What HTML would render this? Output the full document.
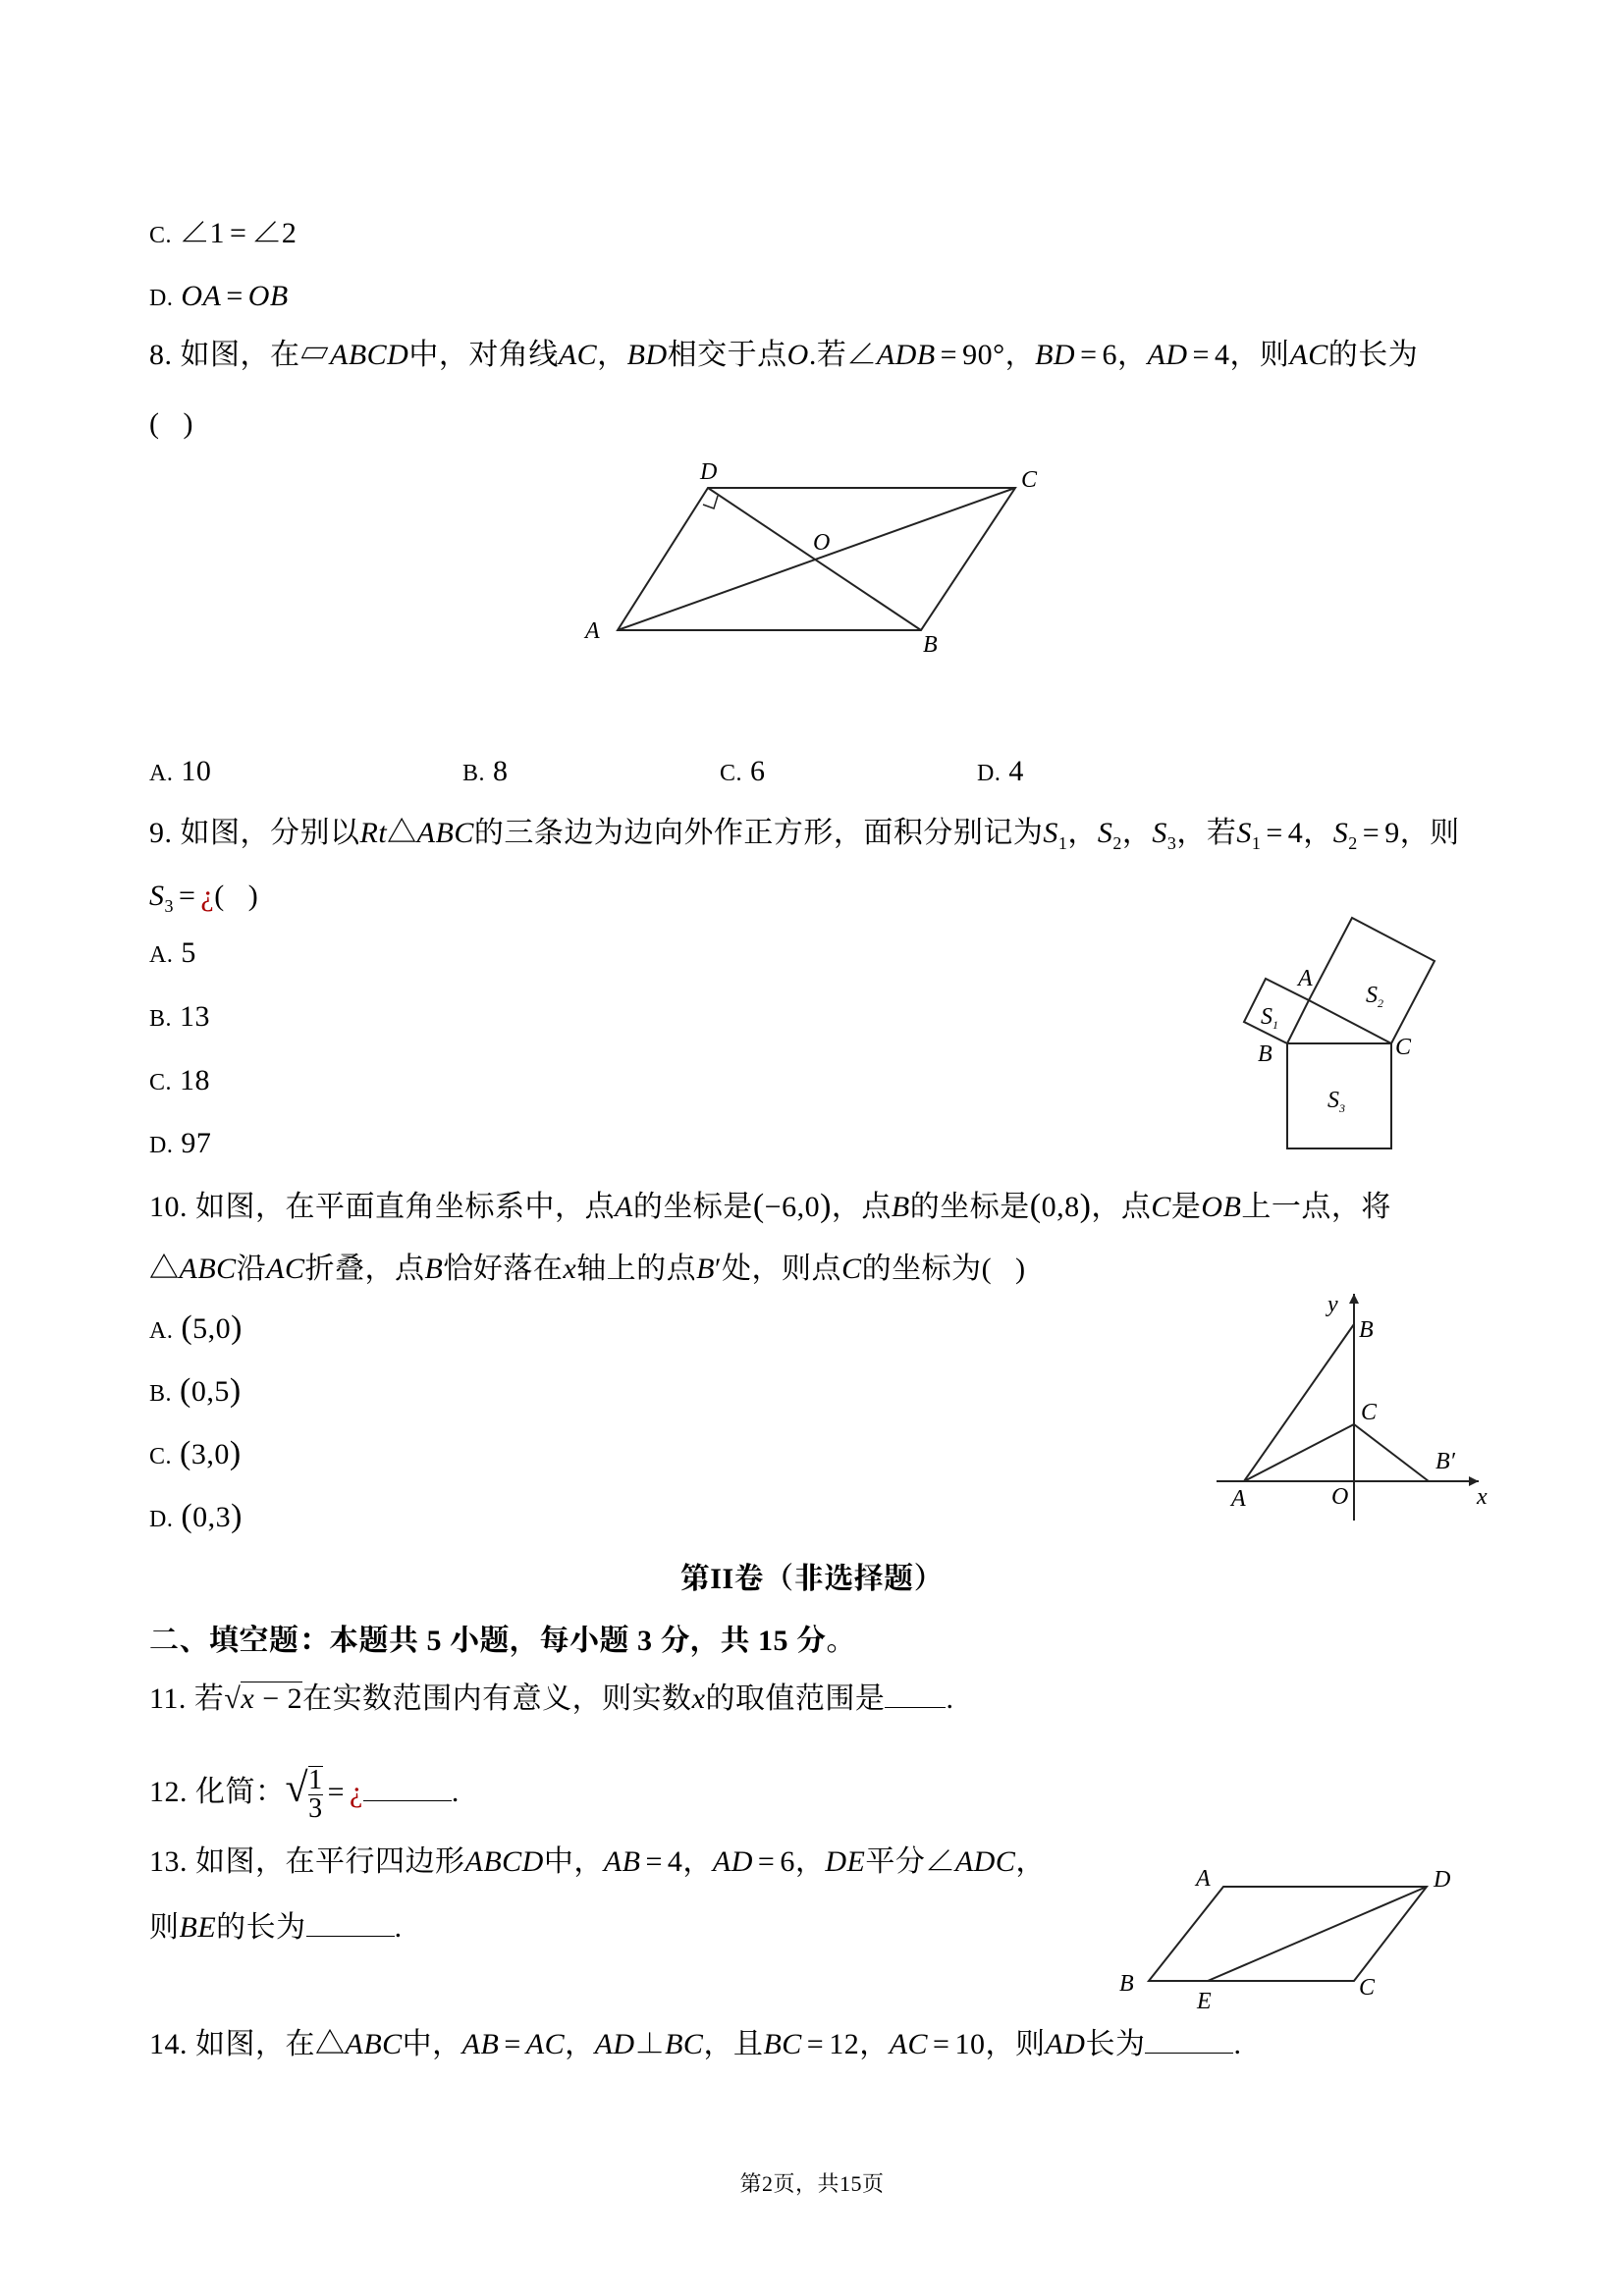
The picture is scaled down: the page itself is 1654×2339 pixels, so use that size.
<!DOCTYPE html>
<html><head><meta charset="utf-8"><style>
body{margin:0;background:#fff;}
.pg{position:relative;width:1654px;height:2339px;overflow:hidden;font-family:"Liberation Serif","Noto Serif CJK SC",serif;font-size:30px;color:#000;}
.t{position:absolute;white-space:nowrap;line-height:32px;letter-spacing:0.5px;}
i{font-style:italic;}
b.e{font-weight:normal;margin:0 5px;}
sub{font-size:18px;}
.o{font-size:24px;}
.red{color:#a00;}
.u{display:inline-block;border-bottom:1.5px solid #000;width:64px;height:24px;vertical-align:baseline;}
svg{position:absolute;left:0;top:0;}
svg text{font-family:"Liberation Serif",serif;font-style:italic;font-size:24px;}
</style></head><body><div class="pg">
<div class="t" style="left:152px;top:222px"><span class="o">C.</span> ∠1<b class="e">=</b>∠2</div>
<div class="t" style="left:152px;top:286px"><span class="o">D.</span> <i>OA</i><b class="e">=</b><i>OB</i></div>
<div class="t" style="left:152px;top:346px">8. 如图，在▱<i>ABCD</i>中，对角线<i>AC</i>，<i>BD</i>相交于点<i>O</i>.若∠<i>ADB</i><b class="e">=</b>90°，<i>BD</i><b class="e">=</b>6，<i>AD</i><b class="e">=</b>4，则<i>AC</i>的长为</div>
<div class="t" style="left:152px;top:416px">(&nbsp;&nbsp;&nbsp;)</div>
<div class="t" style="left:152px;top:770px"><span class="o">A.</span> 10</div>
<div class="t" style="left:471px;top:770px"><span class="o">B.</span> 8</div>
<div class="t" style="left:733px;top:770px"><span class="o">C.</span> 6</div>
<div class="t" style="left:995px;top:770px"><span class="o">D.</span> 4</div>
<div class="t" style="left:152px;top:833px">9. 如图，分别以<i>Rt</i>△<i>ABC</i>的三条边为边向外作正方形，面积分别记为<i>S</i><sub>1</sub>，<i>S</i><sub>2</sub>，<i>S</i><sub>3</sub>，若<i>S</i><sub>1</sub><b class="e">=</b>4，<i>S</i><sub>2</sub><b class="e">=</b>9，则</div>
<div class="t" style="left:152px;top:897px"><i>S</i><sub>3</sub><b class="e">=</b><span class="red">¿</span>(&nbsp;&nbsp;&nbsp;)</div>
<div class="t" style="left:152px;top:955px"><span class="o">A.</span> 5</div>
<div class="t" style="left:152px;top:1020px"><span class="o">B.</span> 13</div>
<div class="t" style="left:152px;top:1085px"><span class="o">C.</span> 18</div>
<div class="t" style="left:152px;top:1149px"><span class="o">D.</span> 97</div>
<div class="t" style="left:152px;top:1213px">10. 如图，在平面直角坐标系中，点<i>A</i>的坐标是<span style="font-size:34px">(</span>−6,0<span style="font-size:34px">)</span>，点<i>B</i>的坐标是<span style="font-size:34px">(</span>0,8<span style="font-size:34px">)</span>，点<i>C</i>是<i>OB</i>上一点，将</div>
<div class="t" style="left:152px;top:1277px">△<i>ABC</i>沿<i>AC</i>折叠，点<i>B</i>恰好落在<i>x</i>轴上的点<i>B</i>′处，则点<i>C</i>的坐标为(&nbsp;&nbsp;&nbsp;)</div>
<div class="t" style="left:152px;top:1337px"><span class="o">A.</span> <span style="font-size:34px">(</span>5,0<span style="font-size:34px">)</span></div>
<div class="t" style="left:152px;top:1401px"><span class="o">B.</span> <span style="font-size:34px">(</span>0,5<span style="font-size:34px">)</span></div>
<div class="t" style="left:152px;top:1465px"><span class="o">C.</span> <span style="font-size:34px">(</span>3,0<span style="font-size:34px">)</span></div>
<div class="t" style="left:152px;top:1529px"><span class="o">D.</span> <span style="font-size:34px">(</span>0,3<span style="font-size:34px">)</span></div>
<div class="t" style="left:0;width:1654px;text-align:center;top:1593px;font-weight:bold">第II卷（非选择题）</div>
<div class="t" style="left:152px;top:1656px;font-weight:bold">二、填空题：本题共 5 小题，每小题 3 分，共 15 分。</div>
<div class="t" style="left:152px;top:1715px">11. 若√<span style="border-top:1.5px solid #000"><i>x</i> − 2</span>在实数范围内有意义，则实数<i>x</i>的取值范围是<span class="u" style="width:62px"></span>.</div>
<div class="t" style="left:152px;top:1799px">12. 化简：<span style="font-size:42px">√</span><span style="display:inline-block;vertical-align:middle;text-align:center;border-top:1.5px solid #000;line-height:28px;font-size:28px"><span style="display:block;border-bottom:1px solid #000">1</span><span style="display:block">3</span></span><b class="e">=</b><span class="red">¿</span><span class="u" style="width:90px"></span>.</div>
<div class="t" style="left:152px;top:1881px">13. 如图，在平行四边形<i>ABCD</i>中，<i>AB</i><b class="e">=</b>4，<i>AD</i><b class="e">=</b>6，<i>DE</i>平分∠<i>ADC</i>，</div>
<div class="t" style="left:152px;top:1948px">则<i>BE</i>的长为<span class="u" style="width:90px"></span>.</div>
<div class="t" style="left:152px;top:2067px">14. 如图，在△<i>ABC</i>中，<i>AB</i><b class="e">=</b><i>AC</i>，<i>AD</i>⊥<i>BC</i>，且<i>BC</i><b class="e">=</b>12，<i>AC</i><b class="e">=</b>10，则<i>AD</i>长为<span class="u" style="width:90px"></span>.</div>
<div class="t" style="left:0;width:1654px;text-align:center;top:2209px;font-size:22px">第2页，共15页</div>
<svg width="1654" height="2339" viewBox="0 0 1654 2339">
<g stroke="#222" stroke-width="2" fill="none">
<polygon points="721,497 1034,497 938,642 629,642"/>
<line x1="629" y1="642" x2="1034" y2="497"/><line x1="721" y1="497" x2="938" y2="642"/>
<polyline points="716,514 727,518 731,505" stroke-width="1.5"/>
<polygon points="1311,1063 1333,1019 1289,997 1267,1041"/>
<polygon points="1333,1019 1417,1063 1461,979 1377,935"/>
<rect x="1311" y="1063" width="106" height="107"/>
<line x1="1239" y1="1509" x2="1506" y2="1509"/><line x1="1379" y1="1549" x2="1379" y2="1318"/>
<line x1="1267" y1="1509" x2="1379" y2="1349"/><line x1="1267" y1="1509" x2="1379" y2="1451"/><line x1="1379" y1="1451" x2="1455" y2="1509"/>
<polygon points="1246,1922 1453,1922 1379,2018 1170,2018"/>
<line x1="1230" y1="2018" x2="1453" y2="1922"/>
</g>
<path d="M1506,1509 l-10,-5 v10z M1379,1318 l-5,10 h10z" fill="#222"/>
<g fill="#000">
<text x="713" y="488">D</text><text x="1040" y="496">C</text><text x="828" y="560">O</text><text x="596" y="650">A</text><text x="940" y="664">B</text>
<text x="1322" y="1004">A</text><text x="1284" y="1043" font-size="20">S<tspan font-size="12" dy="5">1</tspan></text><text x="1391" y="1021" font-size="20">S<tspan font-size="12" dy="5">2</tspan></text><text x="1281" y="1081">B</text><text x="1421" y="1074">C</text><text x="1352" y="1128" font-size="20">S<tspan font-size="12" dy="5">3</tspan></text>
<text x="1352" y="1336">y</text><text x="1384" y="1362">B</text><text x="1386" y="1446">C</text><text x="1462" y="1496">B′</text><text x="1254" y="1534">A</text><text x="1356" y="1532">O</text><text x="1504" y="1532">x</text>
<text x="1218" y="1921">A</text><text x="1460" y="1922">D</text><text x="1140" y="2028">B</text><text x="1219" y="2046">E</text><text x="1384" y="2032">C</text>
</g>
</svg>
</div></body></html>
